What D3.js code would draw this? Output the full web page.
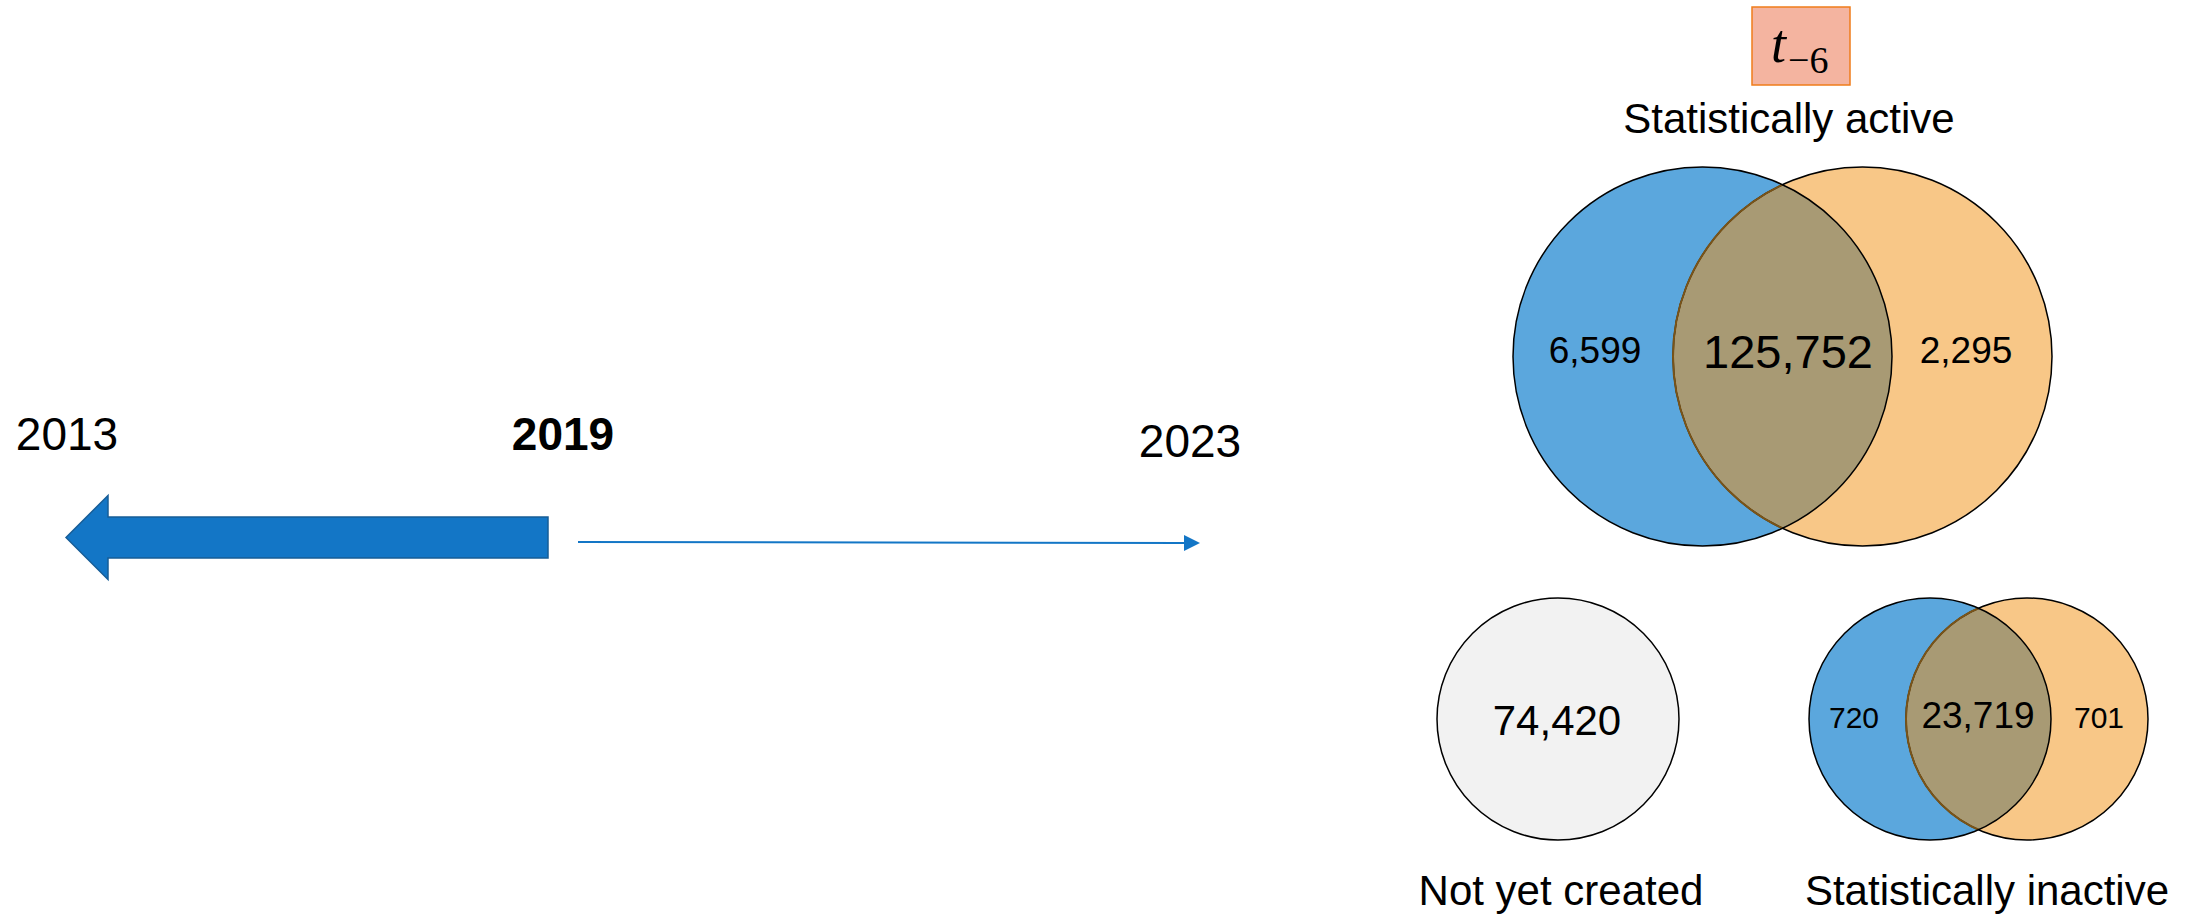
<!DOCTYPE html>
<html>
<head>
<meta charset="utf-8">
<script src="https://cdn.jsdelivr.net/npm/d3@7"></script>
<style>
  body { margin: 0; background: #fff; }
  svg { display: block; font-family: "Liberation Sans", Arial, sans-serif; }
</style>
</head>
<body>
<div id="chart"></div>
<script>
// timeline
var years = [2013, 2019, 2023];
var yearBold = [false, true, false];

// venn counts: [left only, both, right only]
var activeCounts = [6599, 125752, 2295];
var inactiveCounts = [720, 23719, 701];
var notCreatedCount = [74420];
var groupLabels = ["Statistically active", "Not yet created", "Statistically inactive"];
var periodLabel = ["t", "\u22126"];

var W = 2187, H = 914;
var fmt = d3.format(",");

var colBlue = "#5ba7dd", colOrange = "#f8c787", colLens = "#a89a74", colLensEdge = "#7a5418";
var colArrow = "#1376c6";

var svg = d3.select("#chart").append("svg").attr("width", W).attr("height", H);
var defs = svg.append("defs");

// ---------- timeline ----------
var x = d3.scaleLinear().domain([2013, 2019, 2023]).range([67, 563, 1190]);

svg.selectAll("text.year")
    .data(years)
    .enter().append("text")
    .attr("class", "year")
    .attr("x", function(d) { return x(d); })
    .attr("y", function(d) { return d == 2023 ? 457 : 450; })
    .attr("text-anchor", "middle")
    .attr("font-size", 46)
    .attr("font-weight", function(d, i) { return yearBold[i] ? "bold" : "normal"; })
    .text(function(d) { return d; });

// thick arrow 2019 -> 2013
var ay = 537.5, shaftH = 41, headH = 84, headL = 42;
var x0 = x(2013) - 1, x1 = x(2019) - 15;
var big = d3.path();
big.moveTo(x0, ay);
big.lineTo(x0 + headL, ay - headH / 2);
big.lineTo(x0 + headL, ay - shaftH / 2);
big.lineTo(x1, ay - shaftH / 2);
big.lineTo(x1, ay + shaftH / 2);
big.lineTo(x0 + headL, ay + shaftH / 2);
big.lineTo(x0 + headL, ay + headH / 2);
big.closePath();
svg.append("path")
    .attr("d", big.toString())
    .attr("fill", colArrow)
    .attr("stroke", "#175d97")
    .attr("stroke-width", 1.5);

// thin arrow 2019 -> 2023
defs.append("marker")
    .attr("id", "tip")
    .attr("viewBox", "0 0 10 10")
    .attr("refX", 0).attr("refY", 5)
    .attr("markerWidth", 8).attr("markerHeight", 8)
    .attr("markerUnits", "strokeWidth")
    .attr("orient", "auto")
    .append("path")
    .attr("d", "M0,0 L10,5 L0,10 Z")
    .attr("fill", colArrow);

svg.append("line")
    .attr("x1", x(2019) + 15).attr("y1", 542)
    .attr("x2", x(2023) - 6).attr("y2", 543)
    .attr("stroke", colArrow)
    .attr("stroke-width", 2)
    .attr("marker-end", "url(#tip)");

// ---------- period box ----------
svg.append("rect")
    .attr("x", 1752).attr("y", 7)
    .attr("width", 98).attr("height", 78)
    .attr("fill", "#f4b4a0")
    .attr("stroke", "#ef7c1a")
    .attr("stroke-width", 1.5);
var pt = svg.append("text")
    .attr("x", 1771).attr("y", 62)
    .attr("font-family", "'Liberation Serif', 'DejaVu Serif', serif");
pt.append("tspan").attr("font-style", "italic").attr("font-size", 54).text(periodLabel[0]);
pt.append("tspan").attr("dy", 11).attr("dx", 2).attr("font-size", 38).text(periodLabel[1]);

svg.append("text")
    .attr("x", 1789).attr("y", 133)
    .attr("text-anchor", "middle")
    .attr("font-size", 42)
    .text(groupLabels[0]);

// ---------- venn helper ----------
function venn(id, cx1, cx2, cy, r, counts, sizes, labX, baseY) {
    var g = svg.append("g");
    defs.append("clipPath").attr("id", id + "clipL")
        .append("circle").attr("cx", cx1).attr("cy", cy).attr("r", r);

    g.append("circle").attr("cx", cx1).attr("cy", cy).attr("r", r).attr("fill", colBlue);
    g.append("circle").attr("cx", cx2).attr("cy", cy).attr("r", r).attr("fill", colOrange);
    // overlap
    g.append("circle").attr("cx", cx2).attr("cy", cy).attr("r", r)
        .attr("fill", colLens).attr("clip-path", "url(#" + id + "clipL)");
    // outlines
    g.append("circle").attr("cx", cx2).attr("cy", cy).attr("r", r)
        .attr("fill", "none").attr("stroke", "#000").attr("stroke-width", 1.5);
    g.append("circle").attr("cx", cx2).attr("cy", cy).attr("r", r)
        .attr("fill", "none").attr("stroke", colLensEdge).attr("stroke-width", 2)
        .attr("clip-path", "url(#" + id + "clipL)");
    g.append("circle").attr("cx", cx1).attr("cy", cy).attr("r", r)
        .attr("fill", "none").attr("stroke", "#000").attr("stroke-width", 1.5);

    g.selectAll("text")
        .data(counts)
        .enter().append("text")
        .attr("x", function(d, i) { return labX[i]; })
        .attr("y", function(d, i) { return baseY[i]; })
        .attr("text-anchor", "middle")
        .attr("font-size", function(d, i) { return sizes[i]; })
        .text(function(d) { return fmt(d); });
}

venn("act", 1702.5, 1862.5, 356.5, 189.5, activeCounts, [37, 47, 37],
     [1595, 1788, 1966], [363, 368, 363]);

// not yet created
var gn = svg.append("g");
gn.selectAll("circle")
    .data(notCreatedCount)
    .enter().append("circle")
    .attr("cx", 1558).attr("cy", 719).attr("r", 121)
    .attr("fill", "#f2f2f2")
    .attr("stroke", "#000").attr("stroke-width", 1.5);
gn.selectAll("text")
    .data(notCreatedCount)
    .enter().append("text")
    .attr("x", 1557).attr("y", 735)
    .attr("text-anchor", "middle")
    .attr("font-size", 42)
    .text(function(d) { return fmt(d); });

venn("inact", 1930, 2027, 719, 121, inactiveCounts, [30, 37, 30],
     [1854, 1978, 2099], [728, 728, 728]);

svg.append("text")
    .attr("x", 1561).attr("y", 905)
    .attr("text-anchor", "middle")
    .attr("font-size", 42)
    .text(groupLabels[1]);
svg.append("text")
    .attr("x", 1987).attr("y", 905)
    .attr("text-anchor", "middle")
    .attr("font-size", 42)
    .text(groupLabels[2]);
</script>
</body>
</html>
